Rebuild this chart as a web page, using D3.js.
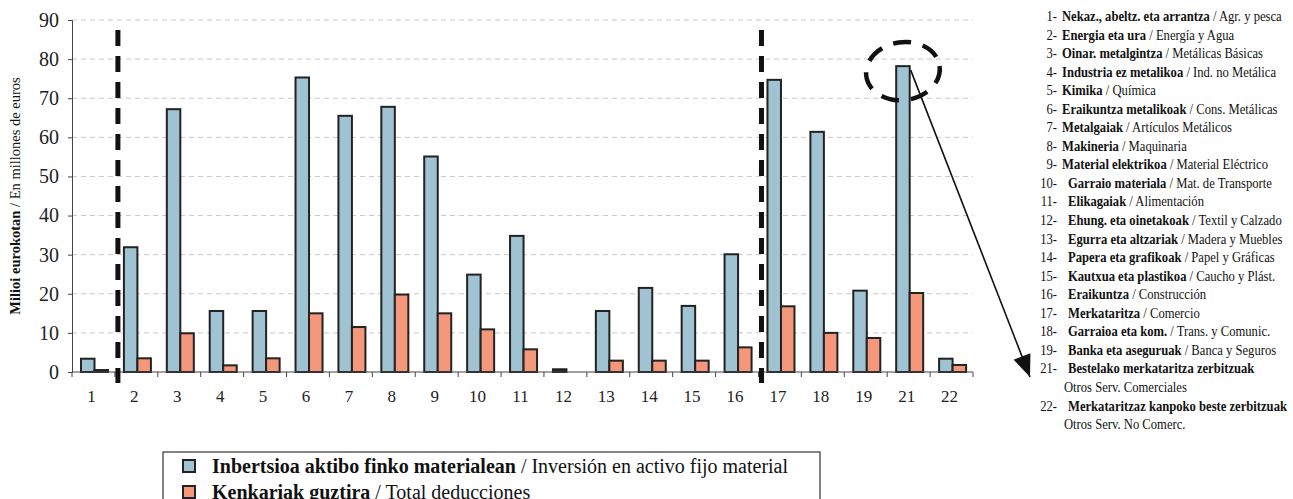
<!DOCTYPE html>
<html><head><meta charset="utf-8">
<script src="https://cdn.jsdelivr.net/npm/d3@7"></script>
<style>
body{margin:0;background:#fff;}
svg{display:block;font-family:"Liberation Serif","Times New Roman",serif;}
svg text{font-family:"Liberation Serif","Times New Roman",serif;}
</style></head>
<body><svg id="c" width="1293" height="499"></svg>
<script>
const categories = ["1","2","3","4","5","6","7","8","9","10","11","12","13","14","15","16","17","18","19","21","22"];
const inversion = [3.4,31.9,67.2,15.6,15.6,75.3,65.5,67.8,55.1,24.9,34.8,0.7,15.6,21.5,16.9,30.1,74.7,61.4,20.8,78.2,3.4];
const deducciones = [0.5,3.5,9.9,1.7,3.5,15.0,11.5,19.8,15.0,10.9,5.8,0,2.9,2.9,2.9,6.3,16.8,10.0,8.7,20.2,1.8];
const yTicks = [0,10,20,30,40,50,60,70,80,90];
const sectorCodes = ["1","2","3","4","5","6","7","8","9","10","11","12","13","14","15","16","17","18","19","21","22"];
const sectorEu = ["Nekaz., abeltz. eta arrantza","Energia eta ura","Oinar. metalgintza","Industria ez metalikoa","Kimika","Eraikuntza metalikoak","Metalgaiak","Makineria","Material elektrikoa","Garraio materiala","Elikagaiak","Ehung. eta oinetakoak","Egurra eta altzariak","Papera eta grafikoak","Kautxua eta plastikoa","Eraikuntza","Merkataritza","Garraioa eta kom.","Banka eta aseguruak","Bestelako merkataritza zerbitzuak","Merkataritzaz kanpoko beste zerbitzuak"];
const sectorEs = ["Agr. y pesca","Energía y Agua","Metálicas Básicas","Ind. no Metálica","Química","Cons. Metálicas","Artículos Metálicos","Maquinaria","Material Eléctrico","Mat. de Transporte","Alimentación"," Textil y Calzado","Madera y Muebles","Papel y Gráficas"," Caucho y Plást.","Construcción","Comercio","Trans. y Comunic.","Banca y Seguros","Otros Serv. Comerciales","Otros Serv. No Comerc."];
const seriesNamesEu = ["Inbertsioa aktibo finko materialean","Kenkariak guztira"];
const seriesNamesEs = ["Inversión en activo fijo material","Total deducciones"];
const colors = ["#9fc3d2","#f4977a"];
const markedSplits = ["2","17"];
const highlighted = "21";

const svg = d3.select("#c");
const L=72, R=973, T=20, B=372;
const x0 = d3.scaleBand().domain(categories).range([L,R]).padding(0);
const x1 = d3.scaleBand().domain([0,1]).range([9,36]).padding(0);
const y = d3.scaleLinear().domain([0,90]).range([B,T]);

// grid
svg.append("g").selectAll("line").data(yTicks.filter(d=>d>0)).join("line")
  .attr("x1",L).attr("x2",R).attr("y1",d=>y(d)).attr("y2",d=>y(d))
  .attr("stroke","#c8c8c8").attr("stroke-width",1).attr("stroke-dasharray","5,4");

// bars
const g = svg.append("g");
categories.forEach((c,i)=>{
  [inversion[i],deducciones[i]].forEach((v,k)=>{
    if(v<=0) return;
    g.append("rect").attr("x",x0(c)+x1(k)).attr("width",x1.bandwidth())
      .attr("y",y(v)).attr("height",B-y(v))
      .attr("fill", v<1 ? "#222" : colors[k]).attr("stroke","#222").attr("stroke-width",2);
  });
});

// y axis
const ya = svg.append("g").attr("transform",`translate(${L},0)`)
  .call(d3.axisLeft(y).tickValues(yTicks).tickSize(4).tickPadding(9));
ya.attr("font-family",null);
ya.select(".domain").attr("stroke","#444");
ya.selectAll(".tick line").attr("stroke","#444");
ya.selectAll("text").attr("font-size",20).attr("fill","#222");

// x axis
svg.append("line").attr("x1",L).attr("x2",R).attr("y1",B).attr("y2",B).attr("stroke","#444");
svg.append("g").selectAll("line").data(categories.concat(["_end"])).join("line")
  .attr("x1",(d,i)=>L+i*x0.step()).attr("x2",(d,i)=>L+i*x0.step())
  .attr("y1",B).attr("y2",B+5).attr("stroke","#444");
svg.append("g").selectAll("text").data(categories).join("text")
  .attr("x",d=>x0(d)+x0.bandwidth()/2-2).attr("y",B+30)
  .attr("text-anchor","middle").attr("font-size",17).attr("fill","#222").text(d=>d);

// y title
svg.append("text").attr("transform","translate(20,196) rotate(-90)").attr("text-anchor","middle")
  .attr("font-size",14.5).attr("fill","#111")
  .call(t=>{t.append("tspan").attr("font-weight","bold").text("Milioi eurokotan");
            t.append("tspan").text(" / En millones de euros");});

// dashed split lines
markedSplits.forEach(c=>{
  svg.append("line").attr("x1",x0(c)+3).attr("x2",x0(c)+3).attr("y1",30).attr("y2",383)
    .attr("stroke","#111").attr("stroke-width",5).attr("stroke-dasharray","16,10");
});

// highlight ellipse + arrow
const hi = categories.indexOf(highlighted);
const hx = x0(highlighted)+x1(0)+x1.bandwidth()/2, hy = y(inversion[hi]);
svg.append("ellipse").attr("cx",hx).attr("cy",hy+5).attr("rx",37).attr("ry",29)
  .attr("fill","none").attr("stroke","#111").attr("stroke-width",4.5).attr("stroke-dasharray","18,12")
  .attr("transform",`rotate(-8,${hx},${hy+5})`);
const ax0 = x0(highlighted)+x1(0)+x1.bandwidth()+1, ay0 = hy+4, ax1=1030, ay1=377;
svg.append("line").attr("x1",ax0).attr("y1",ay0).attr("x2",ax1).attr("y2",ay1)
  .attr("stroke","#111").attr("stroke-width",1.6);
svg.append("path").attr("d",()=>{
  const ang=Math.atan2(ay1-ay0,ax1-ax0); const len=22, w=9;
  const bx=ax1-len*Math.cos(ang), by=ay1-len*Math.sin(ang);
  const px=-Math.sin(ang)*w, py=Math.cos(ang)*w;
  return `M${ax1},${ay1} L${bx+px},${by+py} L${bx-px},${by-py} Z`;}).attr("fill","#111");

// right legend (condensed serif)
const rl = svg.append("g").attr("font-size",14.5).attr("fill","#111");
const items = [];
let line=0;
sectorCodes.forEach((c,i)=>{
  const yy = 21+line*18.55;
  const num = rl.append("text").attr("x",0).attr("y",yy).attr("text-anchor","end").text(c+"-");
  const t = rl.append("text").attr("y",yy);
  const twoLine = sectorEu[i].length>30;
  t.append("tspan").attr("font-weight","bold").text(sectorEu[i]);
  items.push({t, gap: c.length>1?11:5});
  if(!twoLine){ t.append("tspan").text(" / "+sectorEs[i]); line++; }
  else { line++; const t2 = rl.append("text").attr("y",21+line*18.55).text(sectorEs[i]); items.push({t:t2,gap:7}); line++; }
});
const w0 = items[0].t.node().getComputedTextLength();
const s = 220/w0;
items.forEach(o=>o.t.attr("x",o.gap/s));
rl.attr("transform",`translate(1057,0) scale(${s},1)`);

// bottom legend
const bl = svg.append("g");
bl.append("rect").attr("x",163).attr("y",452).attr("width",657).attr("height",60)
  .attr("fill","#fff").attr("stroke","#333").attr("stroke-width",1.2);
seriesNamesEu.forEach((n,i)=>{
  const yy=460+i*26;
  bl.append("rect").attr("x",183).attr("y",yy).attr("width",12).attr("height",12)
    .attr("fill",colors[i]).attr("stroke","#222").attr("stroke-width",2);
  const t = bl.append("text").attr("x",212).attr("y",yy+13).attr("font-size",20).attr("fill","#111");
  t.append("tspan").attr("font-weight","bold").text(n);
  t.append("tspan").text(" / "+seriesNamesEs[i]);
});
</script></body></html>
